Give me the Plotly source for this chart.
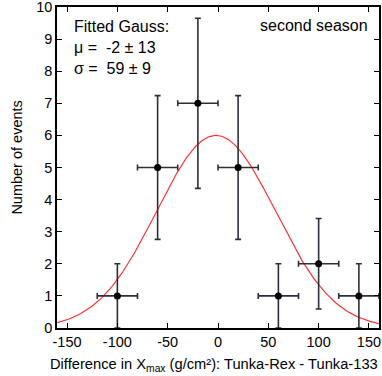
import numpy as np
import plotly.graph_objects as go

# binned differences (bin width 40 g/cm2)
bin_centers = [-100, -60, -20, 20, 60, 100, 140]
counts = [1, 5, 7, 5, 1, 2, 1]
count_err = [1.0, 2.24, 2.65, 2.24, 1.0, 1.41, 1.0]
bin_half_width = [20, 20, 20, 20, 20, 20, 20]

# axis ticks
x_ticks = [-150, -100, -50, 0, 50, 100, 150]
x_tick_labels = ['-150', '-100', '-50', '0', '50', '100', '150']
y_ticks = [0, 1, 2, 3, 4, 5, 6, 7, 8, 9, 10]

# fitted gauss parameters
fit_mu = -2
fit_sigma = 59
fit_amp = 6.0

x_fit = np.linspace(-160, 160, 400)
y_fit = fit_amp * np.exp(-(x_fit - fit_mu) ** 2 / (2 * fit_sigma ** 2))

font_name = 'Liberation Sans, Arial, sans-serif'

fig = go.Figure()
fig.add_trace(go.Scatter(
    x=x_fit, y=y_fit, mode='lines',
    line=dict(color='#ff3333', width=1.2),
    hoverinfo='skip'
))
fig.add_trace(go.Scatter(
    x=bin_centers, y=counts, mode='markers',
    marker=dict(color='black', size=7),
    error_y=dict(type='data', array=count_err, color='#2b3038', thickness=1.6, width=3),
    error_x=dict(type='data', array=bin_half_width, color='#2b3038', thickness=1.6, width=3),
))

tick_font = dict(family=font_name, size=14.5, color='black')
fig.update_xaxes(
    range=[-160, 160], tickvals=x_ticks, ticktext=x_tick_labels,
    ticks='inside', ticklen=5, tickwidth=1.2, tickcolor='black',
    showline=True, linecolor='black', linewidth=1.5, mirror='ticks',
    showgrid=False, zeroline=False, tickfont=tick_font, ticklabeloverflow='allow',
    automargin=False,
)
fig.update_yaxes(
    range=[0, 10], tickvals=y_ticks,
    ticks='inside', ticklen=5, tickwidth=1.2, tickcolor='black',
    showline=True, linecolor='black', linewidth=1.5, mirror='ticks',
    showgrid=False, zeroline=False, tickfont=tick_font, ticklabeloverflow='allow',
    automargin=False,
)

# axis titles
fig.add_annotation(
    text='Difference in X<sub>max</sub> (g/cm²): Tunka-Rex - Tunka-133',
    xref='paper', yref='paper', x=0.487, y=-0.115, xanchor='center', yanchor='middle',
    showarrow=False, font=dict(family=font_name, size=14.7, color='black'),
)
fig.add_annotation(
    text='Number of events', textangle=-90,
    xref='paper', yref='paper', x=-0.125, y=0.53, xanchor='center', yanchor='middle',
    showarrow=False, font=dict(family=font_name, size=14.5, color='black'),
)

fig.add_annotation(
    text='Fitted Gauss:<br>μ =  -2 ± 13<br>σ =  59 ± 9',
    xref='x', yref='y', x=-145, y=9.72, xanchor='left', yanchor='top',
    align='left', showarrow=False,
    font=dict(family=font_name, size=16, color='black'),
)
fig.add_annotation(
    text='second season',
    xref='x', yref='y', x=151, y=9.42, xanchor='right', yanchor='middle',
    showarrow=False,
    font=dict(family=font_name, size=16, color='black'),
)

fig.update_layout(
    width=382, height=376,
    margin=dict(l=57, r=3, t=7, b=48),
    plot_bgcolor='white', paper_bgcolor='white',
    showlegend=False,
)
fig.write_html('out.html', config={'displayModeBar': False},
               post_script="document.body.style.margin='0';")
